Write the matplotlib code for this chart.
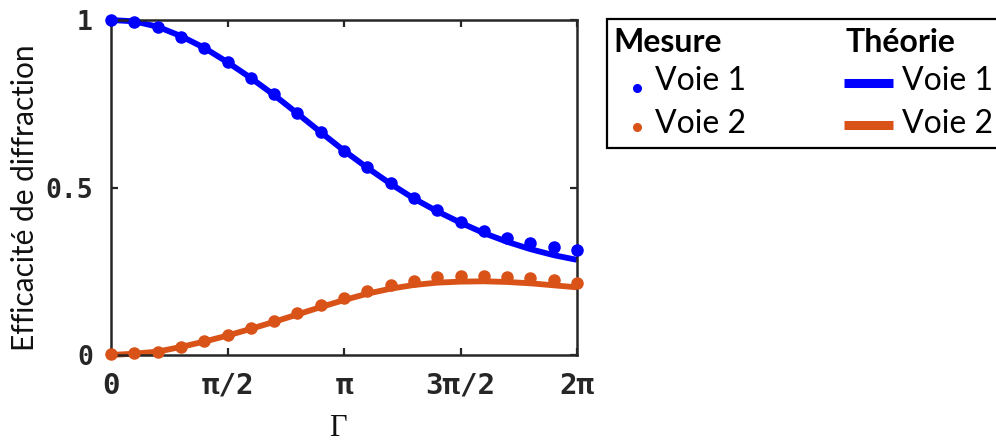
import numpy as np
import matplotlib
matplotlib.use("Agg")
import matplotlib.pyplot as plt
from matplotlib.lines import Line2D
from matplotlib.patches import Rectangle
from matplotlib.font_manager import FontProperties

# Gamma from 0 to 2*pi in steps of pi/10
gamma = np.linspace(0, 2 * np.pi, 21)

mesure_voie1 = [1.000, 0.995, 0.978, 0.950, 0.917, 0.874, 0.828, 0.778, 0.721, 0.665,
                0.610, 0.560, 0.513, 0.469, 0.434, 0.398, 0.370, 0.350, 0.335, 0.323, 0.313]
mesure_voie2 = [0.002, 0.005, 0.010, 0.025, 0.042, 0.060, 0.082, 0.102, 0.124, 0.149,
                0.171, 0.192, 0.209, 0.222, 0.232, 0.236, 0.236, 0.234, 0.231, 0.224, 0.214]

theorie_voie1 = [1.000, 0.996, 0.980, 0.952, 0.917, 0.874, 0.827, 0.776, 0.721, 0.665,
                 0.610, 0.559, 0.511, 0.467, 0.429, 0.395, 0.364, 0.338, 0.316, 0.298, 0.284]
theorie_voie2 = [0.000, 0.004, 0.010, 0.024, 0.040, 0.058, 0.078, 0.099, 0.121, 0.143,
                 0.164, 0.183, 0.198, 0.209, 0.216, 0.219, 0.220, 0.218, 0.214, 0.208, 0.202]

xtick_pos = [0, np.pi / 2, np.pi, 3 * np.pi / 2, 2 * np.pi]
xtick_labels = ["0", "π/2", "π", "3π/2", "2π"]
ytick_pos = [0, 0.5, 1]
ytick_labels = ["0", "0.5", "1"]

BLUE = "#0000FF"
ORANGE = "#D95319"
DARK = "#262626"

W, H = 996, 443
fig = plt.figure(figsize=(W / 100, H / 100), dpi=100)


def px(x, y):
    return x / W, 1 - y / H


ax = fig.add_axes([111 / W, 1 - 355 / H, (577 - 111) / W, (355 - 20) / H])

ax.plot(gamma, theorie_voie1, color=BLUE, lw=4.2, solid_capstyle="butt", clip_on=False)
ax.plot(gamma, theorie_voie2, color=ORANGE, lw=4.2, solid_capstyle="butt", clip_on=False)
ax.plot(gamma, mesure_voie1, "o", color=BLUE, ms=8, clip_on=False, zorder=3)
ax.plot(gamma, mesure_voie2, "o", color=ORANGE, ms=8, clip_on=False, zorder=3)

ax.set_xlim(0, 2 * np.pi)
ax.set_ylim(0, 1)
ax.set_xticks(xtick_pos)
ax.set_xticklabels(xtick_labels)
ax.set_yticks(ytick_pos)
ax.set_yticklabels(ytick_labels)

ytick_fp = FontProperties(family="DejaVu Sans Mono", weight="bold", size=19)
xtick_fp = FontProperties(family="DejaVu Sans Mono", weight="bold", size=21)
for lab in ax.get_yticklabels():
    lab.set_fontproperties(ytick_fp)
    lab.set_color(DARK)
for lab in ax.get_xticklabels():
    lab.set_fontproperties(xtick_fp)
    lab.set_color(DARK)

ax.tick_params(direction="in", length=5, width=1.6, color=DARK,
               top=True, right=True, pad=13)
ax.tick_params(axis="x", pad=12)
for sp in ax.spines.values():
    sp.set_color(DARK)
    sp.set_linewidth(1.8)

# axis labels placed in figure pixels
fig.text(*px(25, 198), "Efficacité de diffraction", family="Lato", size=21.5,
         color="#111111", rotation=90, ha="center", va="center")
fig.text(*px(338, 429), "Γ", family="Liberation Serif", size=22,
         color="#111111", ha="center", va="center")

# legend drawn by hand (two columns with headers)
fig.add_artist(Rectangle(px(607, 148), (W + 20 - 607) / W, (148 - 19) / H,
                         transform=fig.transFigure, fill=True, facecolor="white",
                         edgecolor="black", lw=1.6))
leg_font = dict(family="Lato", size=23, color="black", va="center", ha="left")
fig.text(*px(613, 42), "Mesure", weight="bold", **leg_font)
fig.text(*px(845, 42), "Théorie", weight="bold", **leg_font)
fig.text(*px(655, 81), "Voie 1", **leg_font)
fig.text(*px(655, 124), "Voie 2", **leg_font)
fig.text(*px(902, 81), "Voie 1", **leg_font)
fig.text(*px(902, 124), "Voie 2", **leg_font)
for yy, col in [(88, BLUE), (127, ORANGE)]:
    fig.add_artist(Line2D([px(637, yy)[0]], [px(637, yy)[1]], marker="o", ms=5.5,
                          color=col, transform=fig.transFigure))
for yy, col in [(83, BLUE), (125, ORANGE)]:
    x0, y0 = px(844, yy)
    x1, _ = px(893, yy)
    fig.add_artist(Line2D([x0, x1], [y0, y0], lw=6.5, color=col,
                          solid_capstyle="butt", transform=fig.transFigure))

fig.savefig("out.png", dpi=100)
